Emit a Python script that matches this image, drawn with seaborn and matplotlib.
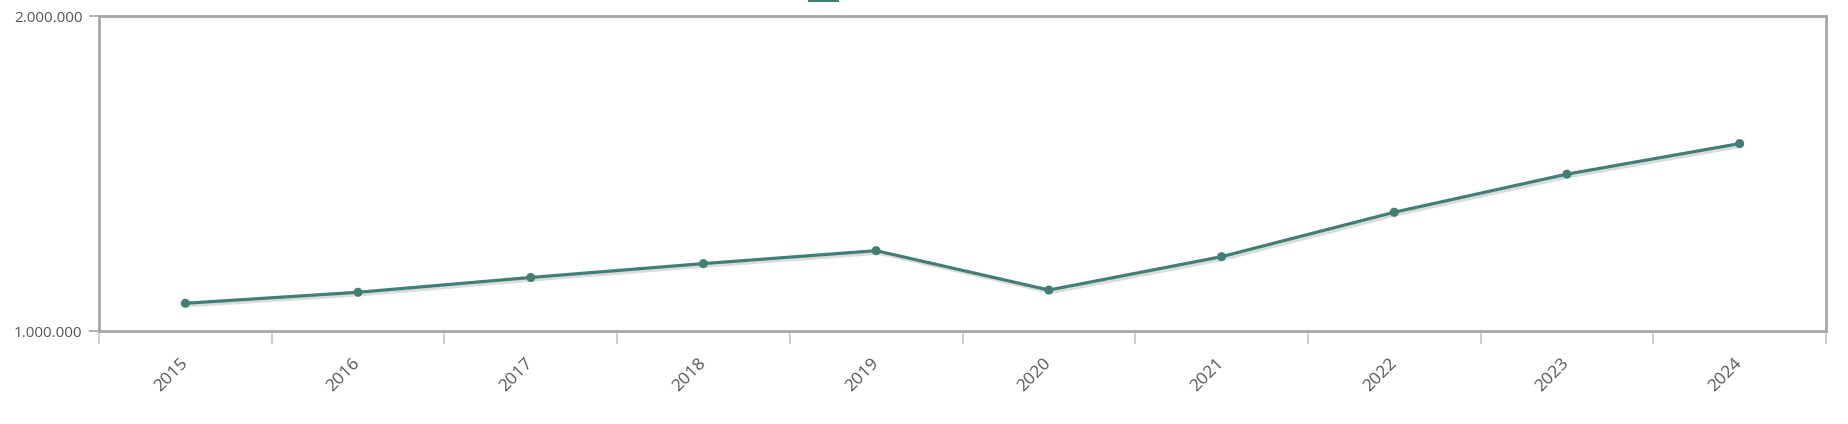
import matplotlib
matplotlib.use("Agg")
import matplotlib.pyplot as plt
import matplotlib.patheffects as pe
from matplotlib.patches import Rectangle
from matplotlib.ticker import FuncFormatter
import pandas as pd
import seaborn as sns

years = ["2015", "2016", "2017", "2018", "2019", "2020", "2021", "2022", "2023", "2024"]
values = [1088000, 1123000, 1170000, 1214000, 1255000, 1130000, 1236000, 1377000, 1498000, 1595000]
y_ticks = [1000000, 2000000]

df = pd.DataFrame({"year": years, "value": values})

sns.set_style("white")
plt.rcParams["font.family"] = ["Open Sans", "DejaVu Sans"]

fig = plt.figure(figsize=(18.49, 4.24), dpi=100)
ax = fig.add_axes([99 / 1849, 1 - 331 / 424, (1826 - 99) / 1849, (331 - 16) / 424])

line_color = "#417e73"
sns.lineplot(data=df, x="year", y="value", ax=ax, color=line_color, linewidth=2.3,
             marker="o", markersize=6.5, markeredgewidth=0, sort=False,
             path_effects=[pe.SimpleLineShadow(offset=(1.8, -1.8), shadow_color="#888888", alpha=0.3),
                           pe.Normal()])

ax.set_xlim(-0.5, len(years) - 0.5)
ax.set_ylim(y_ticks[0], y_ticks[1])
ax.set_yticks(y_ticks)
ax.yaxis.set_major_formatter(FuncFormatter(lambda v, p: f"{int(v):,}".replace(",", ".")))
ax.set_xlabel("")
ax.set_ylabel("")

# labels at the band centres, tick marks at the band edges
ax.set_xticks(range(len(years)))
ax.set_xticklabels(years, rotation=45, ha="right", va="center", rotation_mode="anchor")
ax.set_xticks([i - 0.5 for i in range(len(years) + 1)], minor=True)
ax.tick_params(axis="x", which="major", bottom=False, pad=18, labelsize=12.5, labelcolor="#555555")
ax.tick_params(axis="x", which="minor", bottom=True, length=9, width=1.2, color="#c4c4c4",
               direction="out")
ax.tick_params(axis="y", left=True, length=7, width=1.2, color="#a6a6a6", labelsize=11,
               labelcolor="#555555", pad=5)

for s in ax.spines.values():
    s.set_visible(True)
    s.set_color("#a6a6a6")
    s.set_linewidth(2)
ax.grid(False)

# legend marker cut off at the top edge
fig.add_artist(Rectangle((808 / 1849, 1 - 2 / 424), 31 / 1849, 2 / 424,
                         transform=fig.transFigure, color=line_color, lw=0))

fig.savefig("out.png", dpi=100)
